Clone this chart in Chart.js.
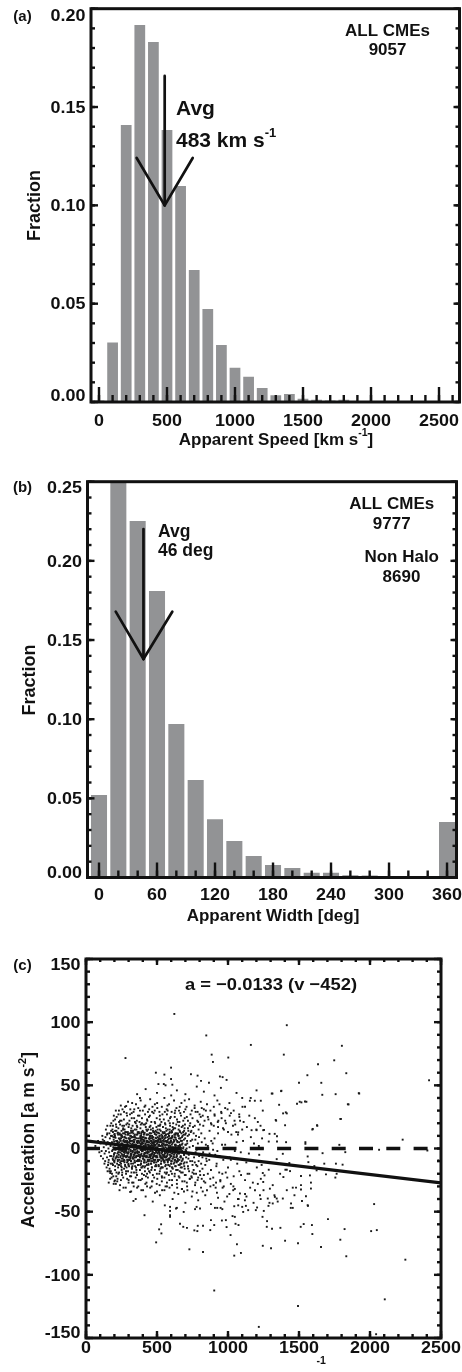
<!DOCTYPE html>
<html><head><meta charset="utf-8">
<script src="https://cdn.jsdelivr.net/npm/chart.js@4"></script>
<style>
html,body{margin:0;padding:0;background:#fff;}
body{width:462px;height:1372px;position:relative;overflow:hidden;}
canvas{position:absolute;left:0;}
</style></head><body>
<canvas id="ca" width="462" height="450" style="top:0px"></canvas>
<canvas id="cb" width="462" height="480" style="top:450px"></canvas>
<canvas id="cc" width="462" height="442" style="top:930px"></canvas>
<script>
// ---------------- data ----------------
const speedBins = [0,100,200,300,400,500,600,700,800,900,1000,1100,1200,1300,1400,1500,1600,1700,1800,1900,2000,2100,2200,2300,2400,2500];
const speedFrac = [0.0008,0.0302,0.1409,0.1917,0.1831,0.1383,0.1098,0.0671,0.0473,0.0290,0.0174,0.0129,0.0071,0.0034,0.0041,0.0016,0.0012,0.0008,0.0012,0.0004,0.0003,0.0002,0.0002,0.0001,0.0001,0.0001];
const widthBins = [0,20,40,60,80,100,120,140,160,180,200,220,240,260,280,300,320,340,360];
const widthFrac = [0.0521,0.2600,0.2252,0.1810,0.0970,0.0616,0.0368,0.0231,0.0136,0.0079,0.0060,0.0030,0.0030,0.0015,0.0012,0.0005,0.0003,0.0003,0.0351];

const speedTickVals = [0,500,1000,1500,2000,2500];
const speedTickText = ['0','500','1000','1500','2000','2500'];
const fracTickValsA = [0,0.05,0.10,0.15,0.20];
const fracTickTextA = ['0.00','0.05','0.10','0.15','0.20'];
const widthTickVals = [0,60,120,180,240,300,360];
const widthTickText = ['0','60','120','180','240','300','360'];
const fracTickValsB = [0,0.05,0.10,0.15,0.20,0.25];
const fracTickTextB = ['0.00','0.05','0.10','0.15','0.20','0.25'];
const accTickVals = [-150,-100,-50,0,50,100,150];
const accTickText = ['-150','-100','-50','0','50','100','150'];

const avgSpeed = 483, avgWidth = 46;
const countSpeed = '9057', countWidth = '9777', countNonHalo = '8690';

// fit line a = -0.0133 (v - 452), end points
const fitLine = [{x:0,y:6.0},{x:2500,y:-27.2}];
const zeroLine = [{x:0,y:0},{x:2500,y:0}];

// scatter points [speed, acceleration]
const cloudCore = [[223,3],[231,-5],[238,7],[244,-1],[249,4],[252,-8],[258,1],[262,6],[266,-3],[271,9],[275,-6],[279,2],[283,-1],[287,5],[290,-9],[294,3],[297,-4],[301,8],[304,0],[308,-7],[311,4],[314,-2],[317,6],[320,-5],[323,1],[326,9],[329,-3],[332,3],[335,-8],[338,5],[341,-1],[344,7],[347,-4],[350,2],[353,-6],[356,0],[359,8],[362,-2],[365,4],[368,-9],[371,6],[374,-3],[377,1],[380,-7],[383,9],[386,3],[389,-5],[392,0],[395,5],[398,-2],[401,7],[404,-8],[407,2],[410,-4],[413,6],[416,-1],[419,4],[422,-6],[425,8],[428,0],[431,-3],[434,3],[437,-7],[440,5],[443,1],[446,-5],[449,9],[452,-2],[455,4],[458,-8],[461,6],[464,0],[467,-4],[470,2],[473,7],[476,-6],[479,3],[482,-1],[485,5],[488,-9],[491,1],[494,8],[497,-3],[500,4],[503,-7],[506,0],[509,6],[512,-2],[515,3],[518,-5],[521,7],[524,-1],[527,2],[530,-8],[533,5],[536,-3],[539,0],[542,6],[545,-6],[548,3],[551,-2],[554,8],[557,-4],[560,1],[563,-7],[566,5],[569,-1],[572,3],[575,-5],[578,7],[581,-2],[584,0],[587,-8],[590,4],[594,-3],[598,6],[602,-6],[606,1],[610,-4],[614,5],[618,-1],[622,-7],[626,3],[630,-3],[634,7],[638,-5],[642,0],[646,-8],[650,2],
[226,-7],[234,1],[241,-3],[247,8],[255,-5],[260,3],[268,-9],[273,5],[281,-2],[285,8],[292,-6],[299,2],[306,-9],[309,6],[316,-4],[321,9],[327,-7],[333,1],[339,-5],[345,9],[351,-3],[357,5],[363,-6],[369,2],[375,-9],[381,4],[387,-1],[393,8],[399,-6],[405,4],[411,-9],[417,8],[423,-3],[429,6],[435,-9],[441,0],[447,7],[453,-5],[459,2],[465,8],[471,-7],[477,5],[483,-4],[489,6],[495,-6],[501,1],[507,-9],[513,8],[519,-3],[525,5],[531,-1],[537,8],[543,-9],[549,0],[555,-6],[561,6],[567,-3],[573,9],[579,-8],[585,4],[591,-5],[597,1],[603,8],[609,-8],[615,-2],[621,6],[627,-9],[633,2],[639,-1],[645,5],[232,-1],[257,-2],[288,1],[313,-8],[343,3],[372,-5],[397,1],[421,2],[451,-6],[478,-9],[504,9],[535,-7],[565,-9],[596,8],[625,9]];

const cloudCore2 = [[190,13],[214,14],[237,12],[261,15],[284,13],[308,12],[331,14],[355,15],[378,12],[402,13],[425,15],[449,12],[472,14],[496,13],[519,15],[543,12],[566,14],[590,13],[613,15],[637,12],[660,14],[684,13],
[182,10],[203,9],[226,11],[248,10],[271,9],[293,11],[316,10],[338,9],[361,11],[383,10],[406,9],[428,11],[451,10],[473,9],[496,11],[518,10],[541,9],[563,11],[586,10],[608,9],[631,11],[653,10],[676,9],[698,11],
[195,7],[219,6],[242,8],[266,7],[289,6],[313,8],[336,7],[360,6],[383,8],[407,7],[430,6],[454,8],[477,7],[501,6],[524,8],[548,7],[571,6],[595,8],[618,7],[642,6],[665,8],[689,7],[712,6],
[186,4],[209,3],[233,5],[256,4],[280,3],[303,5],[327,4],[350,3],[374,5],[397,4],[421,3],[444,5],[468,4],[491,3],[515,5],[538,4],[562,3],[585,5],[609,4],[632,3],[656,5],[679,4],[703,3],
[192,1],[216,0],[239,2],[263,1],[286,0],[310,2],[333,1],[357,0],[380,2],[404,1],[427,0],[451,2],[474,1],[498,0],[521,2],[545,1],[568,0],[592,2],[615,1],[639,0],[662,2],[686,1],[709,0],
[184,-2],[207,-1],[231,-3],[254,-2],[278,-1],[301,-3],[325,-2],[348,-1],[372,-3],[395,-2],[419,-1],[442,-3],[466,-2],[489,-1],[513,-3],[536,-2],[560,-1],[583,-3],[607,-2],[630,-1],[654,-3],[677,-2],[701,-1],
[197,-5],[221,-4],[244,-6],[268,-5],[291,-4],[315,-6],[338,-5],[362,-4],[385,-6],[409,-5],[432,-4],[456,-6],[479,-5],[503,-4],[526,-6],[550,-5],[573,-4],[597,-6],[620,-5],[644,-4],[667,-6],[691,-5],[714,-4],
[188,-8],[212,-7],[235,-9],[259,-8],[282,-7],[306,-9],[329,-8],[353,-7],[376,-9],[400,-8],[423,-7],[447,-9],[470,-8],[494,-7],[517,-9],[541,-8],[564,-7],[588,-9],[611,-8],[635,-7],[658,-9],[682,-8],[705,-7],
[200,-11],[224,-10],[247,-12],[271,-11],[294,-10],[318,-12],[341,-11],[365,-10],[388,-12],[412,-11],[435,-10],[459,-12],[482,-11],[506,-10],[529,-12],[553,-11],[576,-10],[600,-12],[623,-11],[647,-10],[670,-12],[694,-11],
[205,-14],[229,-13],[252,-15],[276,-14],[299,-13],[323,-15],[346,-14],[370,-13],[393,-15],[417,-14],[440,-13],[464,-15],[487,-14],[511,-13],[534,-15],[558,-14],[581,-13],[605,-15],[628,-14],[652,-13],[675,-15],
[262,-6],[270,2],[277,6],[285,-3],[292,4],[300,-1],[307,7],[315,-5],[322,2],[330,-2],[337,5],[345,-7],[352,3],[360,-3],[367,6],[375,0],[382,-5],[390,4],[397,-2],[405,6],[412,-6],[420,1],[427,5],[435,-2],[442,3],[450,-7],[457,0],[465,5],[472,-3],[480,2],[487,-6],[495,6],[502,-1],[510,3],[517,-4],[525,7],[532,0],[540,-5],[547,4],[555,-2],[562,6],[268,-2],[283,5],[298,-7],[313,1],[328,6],[343,-3],[358,2],[373,-6],[388,7],[403,-1],[418,-4],[433,6],[448,1],[463,-5],[478,4],[493,-2],[508,7],[523,-6],[538,2],[553,-7],[568,3],[583,-1],[598,5],[613,-3],[628,1]];

const cloudCore3 = [[202,11.5],[225,12.5],[249,11],[272,12],[296,11.5],[319,12.5],[343,11],[366,12],[390,11.5],[413,12.5],[437,11],[460,12],[484,11.5],[507,12.5],[531,11],[554,12],[578,11.5],[601,12.5],[625,11],[648,12],
[208,8.5],[231,8],[255,9],[278,8.5],[302,8],[325,9],[349,8.5],[372,8],[396,9],[419,8.5],[443,8],[466,9],[490,8.5],[513,8],[537,9],[560,8.5],[584,8],[607,9],[631,8.5],[654,8],
[198,5.5],[221,5],[245,6],[268,5.5],[292,5],[315,6],[339,5.5],[362,5],[386,6],[409,5.5],[433,5],[456,6],[480,5.5],[503,5],[527,6],[550,5.5],[574,5],[597,6],[621,5.5],[644,5],[668,6],
[205,2.5],[228,2],[252,3],[275,2.5],[299,2],[322,3],[346,2.5],[369,2],[393,3],[416,2.5],[440,2],[463,3],[487,2.5],[510,2],[534,3],[557,2.5],[581,2],[604,3],[628,2.5],[651,2],[675,3],
[196,-0.5],[220,0],[243,-1],[267,-0.5],[290,0],[314,-1],[337,-0.5],[361,0],[384,-1],[408,-0.5],[431,0],[455,-1],[478,-0.5],[502,0],[525,-1],[549,-0.5],[572,0],[596,-1],[619,-0.5],[643,0],[666,-1],
[203,-3.5],[226,-3],[250,-4],[273,-3.5],[297,-3],[320,-4],[344,-3.5],[367,-3],[391,-4],[414,-3.5],[438,-3],[461,-4],[485,-3.5],[508,-3],[532,-4],[555,-3.5],[579,-3],[602,-4],[626,-3.5],[649,-3],
[194,-6.5],[217,-6],[241,-7],[264,-6.5],[288,-6],[311,-7],[335,-6.5],[358,-6],[382,-7],[405,-6.5],[429,-6],[452,-7],[476,-6.5],[499,-6],[523,-7],[546,-6.5],[570,-6],[593,-7],[617,-6.5],[640,-6],[664,-7],
[201,-9.5],[224,-9],[248,-10],[271,-9.5],[295,-9],[318,-10],[342,-9.5],[365,-9],[389,-10],[412,-9.5],[436,-9],[459,-10],[483,-9.5],[506,-9],[530,-10],[553,-9.5],[577,-9],[600,-10],[624,-9.5],[647,-9],
[128,6],[140,-2],[150,12],[155,-13],[162,4],[170,-6],[177,14],[185,-12],[140,15],[130,-12],[115,10],[105,-6],[145,-15],[165,-18],[150,18],[190,18]];

const cloudHalo = [[165,12],[172,18],[180,10],[186,15],[193,22],[199,11],[205,14],[211,19],[216,25],[222,12],[228,16],[233,21],[239,11],[245,27],[250,14],[256,18],[261,12],[267,23],[272,15],[278,11],[284,19],[289,26],[295,13],[300,17],[306,22],[311,10],[317,14],[322,28],[328,18],[333,12],[339,24],[344,15],[350,20],[355,11],[361,17],[366,26],[372,13],[377,21],[383,16],[388,10],[394,24],[399,14],[405,19],[410,12],[416,27],[421,17],[427,11],[432,22],[438,15],[443,25],[449,12],[454,18],[460,21],[465,10],[471,16],[476,28],[482,13],[487,20],[493,11],[498,24],[504,15],[509,18],[515,12],[520,26],[526,14],[531,21],[537,10],[542,17],[548,23],[553,13],[559,19],[564,11],[570,27],[575,15],[581,22],[586,12],[592,18],[597,25],[603,14],[608,10],[614,20],[619,16],[625,28],[630,12],[636,19],[641,23],[647,11],[652,15],[658,21],[663,13],[669,26],[674,17],[680,10],[685,22],[691,14],[697,19],[703,12],[710,25],[718,16],[726,11],[734,20],[742,14],[750,24],[758,12],[766,18],[775,10],[784,22],[793,15],[802,19],[812,12],[822,26],
[253,10],[276,13],[298,11],[319,16],[341,10],[364,13],[386,19],[408,11],[430,14],[452,10],[474,13],[496,17],[518,10],[540,13],[562,16],[584,10],[606,13],[628,16],[650,10],[672,12],[694,16],[716,10],[738,13],[262,16],[292,20],[325,13],[358,22],[391,13],[424,20],[457,15],[490,14],[523,19],[556,10],[589,15],[622,11],[655,18],[688,11],[721,14],
[158,-11],[166,-16],[174,-12],[183,-20],[190,-13],[198,-10],[205,-17],[213,-22],[219,-12],[226,-15],[233,-19],[240,-11],[247,-14],[254,-21],[261,-10],[268,-16],[275,-13],[282,-20],[289,-11],[296,-18],[303,-14],[310,-22],[317,-10],[324,-16],[331,-12],[338,-19],[345,-11],[352,-15],[359,-21],[366,-13],[373,-10],[380,-17],[387,-12],[394,-20],[401,-14],[408,-11],[415,-18],[422,-22],[429,-13],[436,-16],[443,-10],[450,-19],[457,-12],[464,-15],[471,-21],[478,-11],[485,-17],[492,-13],[499,-20],[506,-10],[513,-14],[520,-18],[527,-12],[534,-22],[541,-15],[548,-10],[555,-19],[562,-13],[569,-16],[576,-11],[583,-21],[590,-14],[597,-18],[604,-10],[611,-16],[618,-12],[625,-20],[632,-14],[639,-11],[646,-17],[653,-22],[660,-13],[667,-15],[674,-10],[681,-19],[688,-12],[695,-16],[702,-21],[710,-11],[718,-14],[726,-18],[734,-10],[742,-22],[750,-13],[758,-17],[766,-11],[775,-20],[784,-14],[793,-10],[802,-18],[811,-12],[820,-16],[830,-21],[840,-13],[850,-10],
[236,-13],[265,-10],[299,-12],[327,-14],[356,-10],[384,-13],[412,-15],[440,-12],[468,-10],[496,-14],[524,-16],[552,-11],[580,-13],[608,-15],[636,-10],[664,-12],[692,-14],[720,-16],[748,-10],[776,-13],[251,-17],[286,-15],[320,-19],[355,-17],[390,-15],[425,-11],[460,-17],[495,-11],[530,-15],[565,-20],[600,-12],[635,-17],[670,-19],
[655,-4],[661,3],[668,-7],[676,6],[683,0],[690,-5],[698,8],[705,-2],[713,4],[721,-8],[729,1],[737,6],[745,-4],[753,2],[761,-7],[770,7],[779,-1],[788,4],[797,-6],[806,0],[815,5],[825,-3],[836,8],[847,-8],[858,2],[870,-4],[882,6],[895,-1],[663,8],[680,-9],[700,3],[724,-5],[748,7],[772,-3],[796,9],[820,-7],[844,3],[868,-9],[892,4],[910,-5],
[102,4],[110,-2],[118,7],[125,1],[131,-4],[137,9],[143,3],[148,-7],[153,5],[158,0],[163,-3],[168,8],[173,2],[178,-6],[183,5],[188,-1],[193,9],[198,-4],[203,3],[208,-8],[212,6],[216,0],[148,11],[160,-9],[176,10],[190,-9],[204,10],[66,2],[85,6],[94,-3],[120,-8],[135,-10]];

const cloudHalo2 = [[178,20],[196,26],[214,17],[232,30],[250,22],[268,18],[286,28],[304,19],[322,24],[340,31],[358,18],[376,26],[394,20],[412,33],[430,23],[448,17],[466,29],[484,21],[502,32],[520,18],[538,27],[556,20],[574,34],[592,24],[610,17],[628,30],[646,21],[664,28],[682,18],[700,31],[718,22],[736,27],[754,17],[772,29],[790,21],[808,25],[826,18],[844,30],[862,23],[884,19],[906,26],[930,17],[954,28],[980,22],
[205,23],[240,19],[275,33],[310,27],[345,21],[380,30],[415,19],[450,26],[485,35],[520,23],[555,29],[590,20],[625,25],[660,33],[695,24],[730,18],[765,32],[800,27],
[175,-18],[192,-22],[210,-28],[228,-20],[246,-25],[264,-31],[282,-18],[300,-27],[318,-22],[336,-30],[354,-19],[372,-25],[390,-33],[408,-21],[426,-27],[444,-18],[462,-30],[480,-23],[498,-28],[516,-20],[534,-26],[552,-33],[570,-19],[588,-25],[606,-29],[624,-22],[642,-31],[660,-18],[678,-26],[696,-21],[714,-33],[732,-24],[750,-19],[768,-29],[786,-25],[804,-21],[822,-34],[840,-27],[858,-20],[876,-30],[896,-23],[916,-27],[938,-19],[962,-31],
[220,-26],[255,-19],[290,-24],[325,-27],[360,-31],[395,-24],[430,-20],[465,-26],[500,-34],[535,-23],[570,-30],[605,-20],[640,-25],[675,-32],[710,-27],[745,-23],[780,-35],[815,-24]];

const cloudOuter = [[210,30],[245,34],[268,29],[283,33.6],[296,37],[312,31],[335,29],[352,35],[368,32],[385,38],[400,30],[418,34],[436,29],[452,39],[468,33],[484,30],[501,36],[517,29],[534,33],[552,40],[568,31],[585,35],[603,29],[620,38],[637,32],[655,30],[672,36],[690,29],[708,33],[726,39],[745,30],[765,34],[786,29],[808,37],[830,31],[852,35],[876,30],[900,33],[925,38],[952,29],[980,32],[1010,36],[1040,30],[325,36],[445,31],[575,30],[695,38],[815,32],[228,27],[257,31],[240,22],
[835,22],[858,25],[880,20],[905,27],[928,21],[955,24],[985,20],[1012,26],[1046,22],[1080,25],[1110,21],[870,14],[900,18],[930,12],[965,16],[1000,13],[1035,18],[1070,11],[1100,15],
[180,-23],[200,-26],[222,-24],[240,-29],[262,-23],[280,-31],[300,-25],[318,-34],[334,-27],[350,-23],[368,-30],[385,-25],[402,-33],[418,-28],[436,-23],[452,-31],[468,-26],[486,-35],[502,-24],[518,-29],[536,-33],[552,-23],[570,-27],[588,-31],[606,-25],[622,-35],[640,-28],[658,-23],[676,-32],[694,-26],[712,-30],[730,-24],[750,-34],[770,-27],[790,-23],[810,-31],[830,-26],[852,-33],[875,-24],[898,-29],[922,-35],[946,-25],[970,-30],[995,-23],[1020,-28],[1048,-32],[430,-30],[560,-30],[690,-34],[760,-20],[880,-17],[920,-12],[960,-20],[1000,-15],[1040,-22],[1080,-18],[1120,-25],[1150,-20],[940,-6],[980,3],[1020,-9],[1060,5],[1090,-3],
[152,-18],[170,-24],[195,-28],[215,-19],[236,-33],[160,-27],[311,-34.4],[334,-41.5],[204,-25.2],[171,-19.4],
[420,-38],[470,-42],[520,-37],[555,-45],[610,-40],[650,-36],[700,-43],[745,-38],[790,-41],[840,-37],[880,-44],[930,-39],[975,-42],[1010,-36],[1070,-40],[1130,-38],[1180,-43],[1230,-40],[350,-40],[640,-47],[960,-48],[1190,-33],[1210,-28],[1180,-10],[1220,-5],[1240,8],[1200,15],[1150,26],[1120,33],[1160,40],
[360,43],[420,47],[500,44],[560,50],[640,46],[700,43],[780,49],[830,45],[905,42],[950,48],[1060,44],[1100,40],[380,40],[600,42],
[905,8],[918,-14],[932,22],[946,-26],[958,3],[971,15],[984,-19],[997,31],[1011,-7],[1024,11],[1038,-30],[1051,19],[1065,-12],[1079,27],[1092,-21],[1106,6],[1120,-36],[1133,17],[1147,-4],[1161,9],[1175,-27],[1189,24],[1203,-15],[1217,2],[1231,-24],[1245,30],[913,-31],[940,35],[967,-9],[994,-38],[1021,28],[1048,-2],[1075,-40],[1102,33],[1129,-11],[1156,-31],[1183,4],[1210,21],[1237,-13],[925,-2],[1058,13],[1138,-20],
[1037,-33],[1084,-35.6],[1119,-41],[1072,-45],[1142,-48.8],[1248,-26.5],[1295,-31.8],[1330,-38.3],[1225,-37]];

const outliers = [[622,106.5],[847,89.5],[1161,82],[278,71.6],[885,74.3],[894,68.5],[1002,72],[599,64],[492,60],[552,58.5],[739,58.8],[786,57.7],[599,55],[810,53.5],[866,52],[943,57],[962,56.5],[990,54.3],[548,51],[608,50.5],[510,51],
[1414,97.6],[1802,81.3],[1393,74.3],[1748,69.8],[1634,66.7],[1833,59.6],[1559,58],[1500,52],[1657,52],[2416,54],
[1921,43.8],[1844,35],[1758,43],[1664,42.5],[1552,37],[1517,36.5],[1791,23.4],[1629,18],[1594,15],[2230,7],[1388,27.8],[1407,28.6],[1336,22.6],[1376,45.7],[1313,43.5],[1201,46],[1154,37.8],[1189,37.8],[1231,37.8],[1229,18],[1166,14.5],[1201,14.5],[1248,14.5],[1072,12.8],[1085,22],
[1308,43.5],[1374,45.4],[1924,43.5],[1360,34.6],[1486,35.4],[1505,37],[1542,37.2],[1849,34.9],[1414,27.8],[1795,23.4],[1339,22],[1402,18.4],[1627,18.4],[1597,15.5],[1254,14.7],[1292,11.6],[1329,11.6],[1345,9.7],[1287,5.5],[1345,5.5],[1409,5],[1545,5],[1545,3.7],[1784,2.9],[1245,0],[1386,-4.2],[1666,-3.7],[1826,-2.9],[2064,-1],[2404,-1.6],[2481,-9.4],[1343,-8.4],[1432,-11.5],[1561,-6.3],[1566,-10.8],[1678,-12],[1760,-12],[1807,-12.8],[1608,-13.9],[1404,-16.8],[1414,-16.8],[1287,-16.8],[1245,-19.4],[1257,-21.3],[1367,-20],[1390,-22.6],[1437,-17.9],[1514,-21.8],[1577,-21.3],[1690,-20.5],[1765,-20],[1756,-23],[1624,-17.3],[1584,-27],[1250,-33],[1315,-29],[1414,-33],[1456,-31],[1479,-31],[1514,-29],[1514,-32.5],[1584,-31.7],[1549,-37.8],[1468,-37],[1280,-39.6],[1327,-37],[1343,-39.6],[1386,-39.6],[1292,-43],[1315,-43.5],[1350,-42],[1444,-43.5],[1456,-47],[1521,-41.5],[1561,-44.9],[2029,-44],
[412,-52.8],[592,-46.2],[592,-49.4],[592,-52.8],[592,-54.1],[634,-47.5],[688,-50.2],[768,-48],[779,-46.2],[803,-47.5],[908,-47],[924,-47],[948,-47],[1044,-45.7],[1100,-46.2],[1126,-45.4],[1107,-50.2],[1196,-48.8],[1205,-46.7],[1252,-49.4],[1285,-45.4],[1442,-47],[1563,-45.4],
[529,-60],[515,-64],[531,-67.2],[494,-74.3],[662,-59.6],[685,-62],[711,-62.8],[763,-64.8],[784,-65.4],[787,-61.2],[824,-61.2],[880,-56.7],[903,-60.6],[875,-64.6],[957,-57],[985,-56.7],[990,-62.2],[1018,-68.5],[1032,-53.5],[1048,-54.1],[1053,-59.6],[1074,-60.6],[1063,-75.8],[1044,-84.8],[1091,-82.7],[728,-79.8],[824,-81.9],[1243,-54.1],[1275,-57.5],[1273,-62],[1310,-63.5],[1369,-62.8],[1245,-77],[1303,-79],[1402,-73],[1493,-75],[1512,-62],[1533,-59.8],[1591,-60.6],[1594,-67.7],[1655,-78],[1704,-55.9],[1791,-72.2],[1821,-63.8],[1833,-85.3],[2008,-65.4],[2048,-64.6],[2249,-88],[903,-112.4],[1493,-124.7],[2104,-119.4],[1217,-141.2],[2043,-147]];

// ---------------- helpers ----------------
const FONT = '"Liberation Sans", Arial, Helvetica, sans-serif';
const INK = '#111';
function range(a,b,s){const r=[];for(let v=a;v<=b+1e-9;v+=s)r.push(+v.toFixed(6));return r;}

function txt(ctx, parts, x, cy, size, align, o){
  o = o || {};
  const st = o.stretch || 1, supS = size*0.62, raise = o.raise!=null ? o.raise : size*0.5;
  ctx.save();
  let w = 0;
  const ws = parts.map(p=>{ctx.font='bold '+(p[1]?supS:size)+'px '+FONT; const q=ctx.measureText(p[0]).width*st; w+=q; return q;});
  let sx = align==='center' ? x-w/2 : align==='right' ? x-w : x;
  ctx.fillStyle = INK; ctx.textAlign='left'; ctx.textBaseline='alphabetic';
  parts.forEach((p,i)=>{
    ctx.font='bold '+(p[1]?supS:size)+'px '+FONT;
    const base = cy + 0.36*size - (p[1]?raise:0);
    ctx.save(); ctx.translate(sx, base); ctx.scale(st,1); ctx.fillText(p[0],0,0); ctx.restore();
    sx += ws[i];
  });
  ctx.restore();
}
function line(ctx,x1,y1,x2,y2){ctx.beginPath();ctx.moveTo(x1,y1);ctx.lineTo(x2,y2);ctx.stroke();}

function decor(spec){
  return {id:'decor', afterDatasetsDraw(chart){
    const ctx=chart.ctx, a=chart.chartArea, xs=chart.scales.x, ys=chart.scales.y, off=spec.off;
    ctx.save();
    ctx.strokeStyle=INK; ctx.lineCap='butt'; ctx.lineWidth=2.4;
    const T=spec.ticks;
    const doX=(vals,lb,lt)=>vals.forEach(v=>{const x=xs.getPixelForValue(v); if(x<a.left-0.5||x>a.right+0.5)return; if(lb)line(ctx,x,a.bottom,x,a.bottom-lb); if(lt)line(ctx,x,a.top,x,a.top+lt);});
    const doY=(vals,ll,lr)=>vals.forEach(v=>{const y=ys.getPixelForValue(v); if(y<a.top-0.5||y>a.bottom+0.5)return; if(ll)line(ctx,a.left,y,a.left+ll,y); if(lr)line(ctx,a.right,y,a.right-lr,y);});
    doX(spec.xMinor,T.bMin,T.tMin); doX(spec.xMajor,T.bMaj,T.tMaj);
    doY(spec.yMinor,T.lMin,T.rMin); doY(spec.yMajor,T.lMaj,T.rMaj);
    ctx.lineWidth=3; ctx.strokeRect(a.left,a.top,a.right-a.left,a.bottom-a.top);
    spec.xMajor.forEach((v,i)=>txt(ctx,[[spec.xText[i]]],xs.getPixelForValue(v),a.bottom+spec.xLabDy,spec.tickSize,'center',{stretch:spec.tickStretch}));
    spec.yMajor.forEach((v,i)=>{let y=ys.getPixelForValue(v); y=Math.max(a.top+spec.yClamp, Math.min(a.bottom-spec.yClamp, y)); txt(ctx,[[spec.yText[i]]],a.left-5.5,y,spec.tickSize,'right',{stretch:spec.tickStretch});});
    if(spec.extra) spec.extra(ctx,xs,ys,a,off);
    ctx.restore();
  }};
}
function rotTitle(ctx,parts,x,cy,size){ctx.save();ctx.translate(x,cy);ctx.rotate(-Math.PI/2);txt(ctx,parts,0,0,size,'center');ctx.restore();}

function baseOpts(pad, xmin, xmax, ymin, ymax){
  return {responsive:false, animation:false, events:[], devicePixelRatio:1,
    layout:{padding:pad},
    plugins:{legend:{display:false},tooltip:{enabled:false}},
    scales:{x:{type:'linear',display:false,min:xmin,max:xmax,offset:false},
            y:{type:'linear',display:false,min:ymin,max:ymax}}};
}

// ---------------- panel (a) ----------------
(function(){
  const off=0;
  new Chart(document.getElementById('ca'),{
    type:'bar',
    data:{datasets:[{data:speedBins.map((x,i)=>({x:x,y:speedFrac[i]})),backgroundColor:'#929395',borderWidth:0,barPercentage:0.79,categoryPercentage:1}]},
    options:baseOpts({left:91,top:8.7,right:2.5,bottom:48},-58.8,2650.7,0,0.2),
    plugins:[decor({off:off,
      xMajor:speedTickVals, xText:speedTickText, xMinor:range(0,2600,100),
      yMajor:fracTickValsA, yText:fracTickTextA, yMinor:range(0,0.2,0.01),
      ticks:{bMaj:15,bMin:7,tMaj:0,tMin:0,lMaj:7,lMin:4,rMaj:6,rMin:4},
      xLabDy:18.5, yClamp:6.5, tickSize:16, tickStretch:1.12,
      extra:(ctx,xs,ys,a)=>{
        ctx.lineWidth=2.7; ctx.lineCap='round';
        const xa=xs.getPixelForValue(avgSpeed);
        line(ctx,xa,ys.getPixelForValue(0.1658),xa,ys.getPixelForValue(0.10));
        line(ctx,xs.getPixelForValue(277),ys.getPixelForValue(0.1241),xa,ys.getPixelForValue(0.10));
        line(ctx,xs.getPixelForValue(689),ys.getPixelForValue(0.1241),xa,ys.getPixelForValue(0.10));
        txt(ctx,[['Avg']],176,107.5-off,21,'left');
        txt(ctx,[[avgSpeed+' km s'],['-1',1]],176,139.5-off,21,'left',{raise:10});
        txt(ctx,[['ALL CMEs']],387.5,30-off,16,'center',{stretch:1.06});
        txt(ctx,[[countSpeed]],387.5,49-off,16,'center',{stretch:1.06});
        txt(ctx,[['(a)']],22.5,15.5-off,15,'center');
        txt(ctx,[['Apparent Speed [km s'],['-1',1],[']']],276,439-off,17,'center',{raise:9});
        rotTitle(ctx,[['Fraction']],34,205.5-off,18);
      }})]
  });
})();

// ---------------- panel (b) ----------------
(function(){
  const off=450;
  new Chart(document.getElementById('cb'),{
    type:'bar',
    data:{datasets:[{data:widthBins.map((x,i)=>({x:x,y:widthFrac[i]})),backgroundColor:'#929395',borderWidth:0,barPercentage:0.83,categoryPercentage:1}]},
    options:baseOpts({left:87.5,top:31.7,right:5.5,bottom:52.5},-11.9,369.8,0,0.25),
    plugins:[decor({off:off,
      xMajor:widthTickVals, xText:widthTickText, xMinor:range(0,360,20),
      yMajor:fracTickValsB, yText:fracTickTextB, yMinor:range(0,0.25,0.01),
      ticks:{bMaj:15,bMin:7,tMaj:0,tMin:0,lMaj:7,lMin:4,rMaj:6,rMin:4},
      xLabDy:17, yClamp:5.5, tickSize:16, tickStretch:1.12,
      extra:(ctx,xs,ys,a,off)=>{
        ctx.lineWidth=2.7; ctx.lineCap='round';
        const xa=xs.getPixelForValue(avgWidth), yt=ys.getPixelForValue(0.138);
        line(ctx,xa,ys.getPixelForValue(0.2201),xa,yt);
        line(ctx,xs.getPixelForValue(17.3),ys.getPixelForValue(0.1679),xa,yt);
        line(ctx,xs.getPixelForValue(75.8),ys.getPixelForValue(0.1679),xa,yt);
        txt(ctx,[['Avg']],158,530.5-off,17.5,'left');
        txt(ctx,[[avgWidth+' deg']],158,550-off,17.5,'left');
        txt(ctx,[['ALL CMEs']],391.7,503-off,17,'center');
        txt(ctx,[[countWidth]],391.7,522.5-off,17,'center');
        txt(ctx,[['Non Halo']],401.7,556.3-off,17,'center');
        txt(ctx,[[countNonHalo]],401.5,576-off,17,'center');
        txt(ctx,[['(b)']],22.5,487-off,15,'center');
        txt(ctx,[['Apparent Width [deg]']],273,914.5-off,17,'center');
        rotTitle(ctx,[['Fraction']],29,680-off,18);
      }})]
  });
})();

// ---------------- panel (c) ----------------
(function(){
  const off=930;
  const pts=cloudCore.concat(cloudCore2,cloudCore3,cloudHalo,cloudHalo2,cloudOuter,outliers).map(p=>({x:p[0],y:p[1]}));
  new Chart(document.getElementById('cc'),{
    type:'scatter',
    data:{datasets:[
      {data:fitLine,showLine:true,borderColor:INK,borderWidth:3.3,pointRadius:0,order:0},
      {data:zeroLine,showLine:true,borderColor:INK,borderWidth:3.3,borderDash:[14,13.3],pointRadius:0,order:1},
      {data:pts,pointStyle:'rect',pointRadius:1.35,backgroundColor:'#1a1a1a',borderWidth:0,order:2}
    ]},
    options:baseOpts({left:86,top:29,right:21,bottom:34},0,2500,-150,150),
    plugins:[decor({off:off,
      xMajor:speedTickVals, xText:speedTickText, xMinor:range(0,2500,100),
      yMajor:accTickVals, yText:accTickText, yMinor:range(-150,150,10),
      ticks:{bMaj:7,bMin:4,tMaj:6,tMin:3,lMaj:7,lMin:4,rMaj:7,rMin:4},
      xLabDy:9.5, yClamp:5.5, tickSize:16, tickStretch:1.12,
      extra:(ctx,xs,ys,a,off)=>{
        txt(ctx,[['a = \u22120.0133 (v \u2212452)']],271,984-off,17,'center',{stretch:1.08});
        txt(ctx,[['(c)']],22.5,965-off,15,'center');
        txt(ctx,[['-1',1]],316.5,1358-off,17,'left',{raise:0});
        txt(ctx,[['Speed [km s']],316.5,1392-off,17,'right');
        rotTitle(ctx,[['Acceleration [a m s'],['-2',1],[']']],28,1140-off,17.5);
      }})]
  });
})();
</script>
</body></html>
